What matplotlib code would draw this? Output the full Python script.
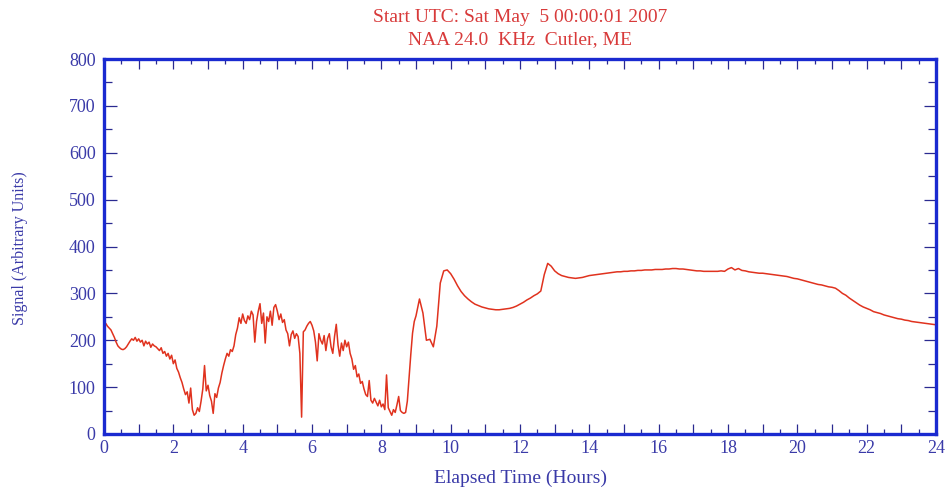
import matplotlib
matplotlib.use("Agg")
import matplotlib.pyplot as plt
from matplotlib.ticker import MultipleLocator, FuncFormatter
import numpy as np

# noisy part, sampled every 0.05 h from 0.00 to 8.95
noisy_start, noisy_step = 0.0, 0.05
noisy_signal = [
    232, 236, 230, 226, 222, 214, 206, 196, 188, 184, 181, 180, 182, 186, 192, 198, 203, 200, 206, 198,
    203, 196, 200, 188, 198, 192, 196, 185, 192, 188, 186, 182, 178, 184, 172, 176, 166, 172, 160, 168,
    150, 158, 140, 132, 120, 110, 96, 84, 90, 66, 98, 52, 40, 44, 56, 48, 70, 96, 146, 92,
    104, 82, 70, 44, 86, 78, 98, 110, 130, 146, 160, 172, 166, 180, 176, 188, 212, 226, 248, 236,
    256, 242, 236, 252, 244, 262, 254, 196, 240, 262, 278, 236, 258, 194, 250, 240, 262, 232, 270, 276,
    262, 244, 256, 238, 244, 222, 214, 188, 212, 220, 204, 214, 208, 172, 36, 218, 222, 230, 236, 240,
    232, 220, 196, 156, 214, 200, 192, 210, 178, 204, 214, 186, 172, 208, 234, 190, 166, 194, 178, 200,
    186, 196, 172, 160, 138, 146, 122, 128, 108, 112, 96, 84, 80, 114, 72, 66, 76, 68, 60, 72,
    58, 64, 52, 126, 56, 48, 40, 52, 46, 62, 80, 50, 46, 44, 46, 70, 120, 170, 215, 240,
]

# smoother part, sampled every 0.1 h from 9.0 to 24.0
smooth_start, smooth_step = 9.0, 0.1
smooth_signal = [
    252, 288, 258, 200, 202, 186, 230, 322, 348, 350,
    342, 330, 316, 304, 295, 288, 282, 277, 274, 271,
    269, 267, 266, 265, 265, 266, 267, 268, 270, 273,
    277, 281, 286, 290, 295, 299, 305, 340, 364, 358,
    348, 342, 338, 336, 334, 333, 332, 333, 334, 336,
    338, 339, 340, 341, 342, 343, 344, 345, 346, 346,
    347, 347, 348, 348, 349, 349, 350, 350, 350, 351,
    351, 351, 352, 352, 353, 353, 352, 352, 351, 350,
    349, 348, 348, 347, 347, 347, 347, 347, 348, 347,
    352, 355, 350, 353, 349, 348, 346, 345, 344, 343,
    343, 342, 341, 340, 339, 338, 337, 336, 334, 332,
    331, 329, 327, 325, 323, 321, 319, 318, 316, 314,
    313, 311, 306, 300, 296, 290, 285, 280, 275, 271,
    268, 265, 261, 259, 257, 254, 252, 250, 248, 246,
    245, 243, 242, 240, 239, 238, 237, 236, 235, 234,
    233,
]

title_lines = ["Start UTC: Sat May  5 00:00:01 2007", "NAA 24.0  KHz  Cutler, ME"]
x_label = "Elapsed Time (Hours)"
y_label = "Signal (Arbitrary Units)"

red = "#e0321e"
title_red = "#d83a3a"
blue = "#1a2ad0"
text_blue = "#3a3aa8"

plt.rcParams["font.family"] = ["Liberation Serif", "DejaVu Serif"]

t_noisy = noisy_start + noisy_step * np.arange(len(noisy_signal))
t_smooth = smooth_start + smooth_step * np.arange(len(smooth_signal))
hours = np.concatenate([t_noisy, t_smooth])
signal = np.array(noisy_signal + smooth_signal, dtype=float)

fig = plt.figure(figsize=(9.48, 4.87), dpi=100)
ax = fig.add_axes([104 / 948, 1 - 434 / 487, 832 / 948, 375 / 487])

ax.plot(hours, signal, color=red, lw=1.1)

ax.set_xlim(0, 24)
ax.set_ylim(0, 800)
ax.xaxis.set_major_locator(MultipleLocator(1))
ax.xaxis.set_minor_locator(MultipleLocator(0.5))
ax.xaxis.set_major_formatter(FuncFormatter(lambda v, p: f"{int(v)}" if int(round(v)) % 2 == 0 else ""))
ax.yaxis.set_major_locator(MultipleLocator(100))
ax.yaxis.set_minor_locator(MultipleLocator(50))

for s in ax.spines.values():
    s.set_color(blue)
    s.set_linewidth(2.4)

ax.tick_params(axis="both", which="both", direction="in", top=True, right=True,
               color="#2a2a90", labelcolor=text_blue, labelsize=13, width=0.9)
ax.tick_params(axis="x", which="major", length=7, pad=4)
ax.tick_params(axis="x", which="minor", length=3.5)
ax.tick_params(axis="y", which="major", length=9, pad=6)
ax.tick_params(axis="y", which="minor", length=6)

fig.text(520 / 948, 1 - 17 / 487, title_lines[0], color=title_red, fontsize=14,
         ha="center", va="center")
fig.text(520 / 948, 1 - 40 / 487, title_lines[1], color=title_red, fontsize=14,
         ha="center", va="center")
fig.text(520 / 948, 1 - 478 / 487, x_label, color=text_blue, fontsize=14,
         ha="center", va="center")
fig.text(20 / 948, 1 - 248 / 487, y_label, color=text_blue, fontsize=11.5,
         ha="center", va="center", rotation=90)

fig.savefig("out.png", dpi=100)
